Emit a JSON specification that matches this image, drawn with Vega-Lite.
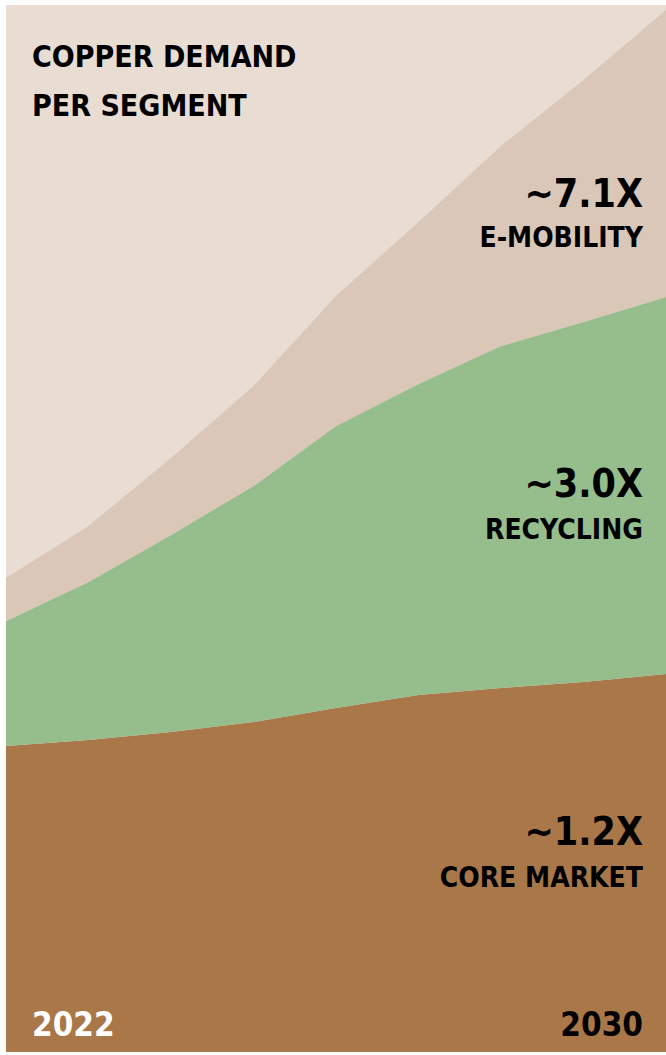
{
  "$schema": "https://vega.github.io/schema/vega-lite/v6.json",
  "width": 660,
  "height": 1047,
  "autosize": {"type": "none"},
  "padding": {"left": 6, "top": 5, "right": 0, "bottom": 3},
  "background": "#ffffff",
  "config": {"view": {"stroke": null, "fill": "#E8DCD3"}, "text": {"font": "'DejaVu Sans Condensed', 'Liberation Sans Narrow', 'DejaVu Sans', sans-serif", "fontWeight": "bold"}},
  "datasets": {
    "demand": [
      {"year": 2022, "segment": "Core market", "rank": 1, "value": 306},
      {"year": 2023, "segment": "Core market", "rank": 1, "value": 312},
      {"year": 2024, "segment": "Core market", "rank": 1, "value": 320},
      {"year": 2025, "segment": "Core market", "rank": 1, "value": 330},
      {"year": 2026, "segment": "Core market", "rank": 1, "value": 344},
      {"year": 2027, "segment": "Core market", "rank": 1, "value": 357},
      {"year": 2028, "segment": "Core market", "rank": 1, "value": 364},
      {"year": 2029, "segment": "Core market", "rank": 1, "value": 370},
      {"year": 2030, "segment": "Core market", "rank": 1, "value": 378},
      {"year": 2022, "segment": "Recycling", "rank": 2, "value": 125},
      {"year": 2023, "segment": "Recycling", "rank": 2, "value": 158},
      {"year": 2024, "segment": "Recycling", "rank": 2, "value": 197},
      {"year": 2025, "segment": "Recycling", "rank": 2, "value": 236},
      {"year": 2026, "segment": "Recycling", "rank": 2, "value": 282},
      {"year": 2027, "segment": "Recycling", "rank": 2, "value": 311},
      {"year": 2028, "segment": "Recycling", "rank": 2, "value": 342},
      {"year": 2029, "segment": "Recycling", "rank": 2, "value": 360},
      {"year": 2030, "segment": "Recycling", "rank": 2, "value": 377},
      {"year": 2022, "segment": "E-mobility", "rank": 3, "value": 43},
      {"year": 2023, "segment": "E-mobility", "rank": 3, "value": 56},
      {"year": 2024, "segment": "E-mobility", "rank": 3, "value": 77},
      {"year": 2025, "segment": "E-mobility", "rank": 3, "value": 100},
      {"year": 2026, "segment": "E-mobility", "rank": 3, "value": 130},
      {"year": 2027, "segment": "E-mobility", "rank": 3, "value": 162},
      {"year": 2028, "segment": "E-mobility", "rank": 3, "value": 200},
      {"year": 2029, "segment": "E-mobility", "rank": 3, "value": 242},
      {"year": 2030, "segment": "E-mobility", "rank": 3, "value": 287}
    ],
    "title": [
      {"year": 2022, "v": 985, "text": "COPPER DEMAND"},
      {"year": 2022, "v": 936, "text": "PER SEGMENT"}
    ],
    "multiples": [
      {"year": 2030, "v": 845, "text": "~7.1X"},
      {"year": 2030, "v": 555, "text": "~3.0X"},
      {"year": 2030, "v": 207, "text": "~1.2X"}
    ],
    "segments": [
      {"year": 2030, "v": 805, "text": "E-MOBILITY"},
      {"year": 2030, "v": 513, "text": "RECYCLING"},
      {"year": 2030, "v": 165, "text": "CORE MARKET"}
    ],
    "startYear": [{"year": 2022, "v": 16, "text": "2022"}],
    "endYear": [{"year": 2030, "v": 16, "text": "2030"}]
  },
  "layer": [
    {
      "data": {"name": "demand"},
      "mark": {"type": "area", "interpolate": "linear"},
      "encoding": {
        "x": {"field": "year", "type": "quantitative", "axis": null, "scale": {"domain": [2022, 2030], "nice": false, "zero": false}},
        "y": {"field": "value", "type": "quantitative", "stack": "zero", "axis": null, "scale": {"domain": [0, 1047], "nice": false}},
        "color": {"field": "segment", "type": "nominal", "legend": null, "scale": {"domain": ["Core market", "Recycling", "E-mobility"], "range": ["#AA7749", "#96BE8C", "#DBC7B7"]}},
        "order": {"field": "rank", "type": "quantitative"}
      }
    },
    {
      "data": {"name": "title"},
      "mark": {"type": "text", "align": "left", "baseline": "alphabetic", "dx": 26, "fontSize": 30, "color": "#000000"},
      "encoding": {
        "x": {"field": "year", "type": "quantitative"},
        "y": {"field": "v", "type": "quantitative"},
        "text": {"field": "text"}
      }
    },
    {
      "data": {"name": "multiples"},
      "mark": {"type": "text", "align": "right", "baseline": "alphabetic", "dx": -23, "fontSize": 39, "color": "#000000"},
      "encoding": {
        "x": {"field": "year", "type": "quantitative"},
        "y": {"field": "v", "type": "quantitative"},
        "text": {"field": "text"}
      }
    },
    {
      "data": {"name": "segments"},
      "mark": {"type": "text", "align": "right", "baseline": "alphabetic", "dx": -23, "fontSize": 28, "color": "#000000"},
      "encoding": {
        "x": {"field": "year", "type": "quantitative"},
        "y": {"field": "v", "type": "quantitative"},
        "text": {"field": "text"}
      }
    },
    {
      "data": {"name": "startYear"},
      "mark": {"type": "text", "align": "left", "baseline": "alphabetic", "dx": 26, "fontSize": 33, "color": "#ffffff"},
      "encoding": {
        "x": {"field": "year", "type": "quantitative"},
        "y": {"field": "v", "type": "quantitative"},
        "text": {"field": "text"}
      }
    },
    {
      "data": {"name": "endYear"},
      "mark": {"type": "text", "align": "right", "baseline": "alphabetic", "dx": -23, "fontSize": 33, "color": "#000000"},
      "encoding": {
        "x": {"field": "year", "type": "quantitative"},
        "y": {"field": "v", "type": "quantitative"},
        "text": {"field": "text"}
      }
    }
  ]
}
